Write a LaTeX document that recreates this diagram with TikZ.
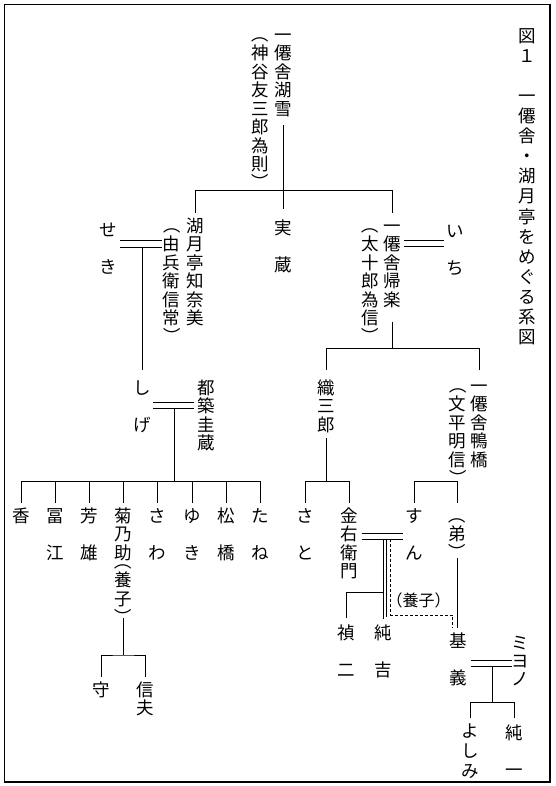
\documentclass[tikz,border=0pt]{standalone}
\usepackage{fontspec}
\usepackage{graphicx}
\newfontfamily\cjk{Noto Sans CJK JP}
\makeatletter
\newif\ifvt@first
\newcommand\vL{}\newcommand\vR{}\newcommand\vB{}
\def\vt@L{\vL}\def\vt@R{\vR}
\def\vt@strut{\vrule width0pt height.88em depth.12em}
\newcommand\vt[2][18.5pt]{\vbox{\baselineskip=#1\relax\lineskiplimit=-1000pt\lineskip=0pt\vt@firsttrue
  \@tfor\vt@c:=#2\do{\vt@one}}}
\def\vt@one{%
  \ifx\vt@c\vt@L
    \ifvt@first\else\vskip-.5\baselineskip\fi
    \hbox to1em{\vt@strut\rotatebox[origin=c]{-90}{\hbox{\vt@strut（}}\hss}%
  \else\ifx\vt@c\vt@R
    \hbox to1em{\vt@strut\rotatebox[origin=c]{-90}{\hbox{\vt@strut）}}\hss}\vskip-.5\baselineskip
  \else
    \hbox to1em{\hss\vt@strut\vt@c\hss}%
  \fi\fi\vt@firstfalse}
\makeatother
\begin{document}
\begin{tikzpicture}[x=1pt,y=-1pt,
  person/.style={inner sep=0pt,anchor=north,font=\cjk\fontsize{17.5pt}{17.5pt}\selectfont},
  ln/.style={line width=0.85pt},
  adopt/.style={line width=0.85pt,dash pattern=on 3pt off 2pt}]
\useasboundingbox (0,0) rectangle (555,786);
\draw[line width=1.1pt] (4.5,4.5) rectangle (550,782);
% title
\node[person] (title) at (527.7,26.5) {\vt[20.1pt]{図１\vB 一僊舎・湖月亭をめぐる系図}};
% generation 1
\node[person] (n1) at (283,25.5) {\vt{一僊舎湖雪}};
\node[person] (n1b) at (260.5,25.5) {\vt{\vL 神谷友三郎為則\vR}};
% generation 2
\node[person] (n2) at (195,216.5) {\vt{湖月亭知奈美}};
\node[person] (n2b) at (171.7,216.5) {\vt{\vL 由兵衛信常\vR}};
\node[person] (n3) at (283,218.5) {\vt{実\vB 蔵}};
\node[person] (n4) at (108,220.5) {\vt{せ\vB き}};
\node[person] (n5) at (392,216.5) {\vt{一僊舎帰楽}};
\node[person] (n5b) at (370,216.5) {\vt{\vL 太十郎為信\vR}};
\node[person] (n6) at (455,221.5) {\vt{い\vB ち}};
% generation 3
\node[person] (n7) at (142.7,378.5) {\vt{し\vB げ}};
\node[person] (n8) at (206.7,378.5) {\vt{都築圭蔵}};
\node[person] (n9) at (326.7,378.5) {\vt{織三郎}};
\node[person] (n10) at (479.3,376.5) {\vt{一僊舎鴨橋}};
\node[person] (n10b) at (457.7,376.5) {\vt{\vL 文平明信\vR}};
% children of shige
\node[person] (c1) at (21.7,506.5) {\vt{香}};
\node[person] (c2) at (55,506.5) {\vt{冨\vB 江}};
\node[person] (c3) at (89.3,506.5) {\vt{芳\vB 雄}};
\node[person] (c4) at (123.3,506.5) {\vt{菊乃助\vL 養子\vR}};
\node[person] (c5) at (157.7,506.5) {\vt{さ\vB わ}};
\node[person] (c6) at (192.3,506.5) {\vt{ゆ\vB き}};
\node[person] (c7) at (226.7,506.5) {\vt{松\vB 橋}};
\node[person] (c8) at (260,506.5) {\vt{た\vB ね}};
\node[person] (m1) at (101.7,680.5) {\vt{守}};
\node[person] (m2) at (145.7,680.5) {\vt{信夫}};
% right side
\node[person] (k1) at (305.7,506.5) {\vt{さ\vB と}};
\node[person] (k2) at (349,506.5) {\vt{金右衛門}};
\node[person] (k3) at (414.3,506.5) {\vt{す\vB ん}};
\node[person] (k4) at (457.5,506.5) {\vt{\vL 弟\vR}};
\node[person] (g1) at (346.7,623.5) {\vt{禎\vB 二}};
\node[person] (g2) at (383.3,623.5) {\vt{純\vB 吉}};
\node[person] (g3) at (458.3,631.5) {\vt{基\vB 義}};
\node[person] (g4) at (520,633.5) {\vt[18pt]{ミヨノ}};
\node[person] (y1) at (470.7,721.5) {\vt[20pt]{よしみ}};
\node[person] (y2) at (514.3,723.5) {\vt{純\vB 一}};
\node[inner sep=0pt,font=\cjk\fontsize{16pt}{16pt}\selectfont] (yoshi) at (418.7,600) {（養子）};
% connectors
\draw[ln] (n1 |- 0,125) -- (n3 |- 0,209);
\draw[ln] (n2 |- 0,212.7) |- (n5 |- 0,190.7) -- (n5 |- 0,212.7);
\draw[ln] (120,240.7) -- (161.7,240.7) (120,247.3) -- (161.7,247.3);
\draw[ln] (n7 |- 0,247.3) -- (n7 |- 0,370);
\draw[ln] (404,240.7) -- (444,240.7) (404,246.7) -- (444,246.7);
\draw[ln] (n5 |- 0,321.7) -- (n5 |- 0,348.3);
\draw[ln] (n9 |- 0,370) |- (n10 |- 0,348.3) -- (n10 |- 0,370);
\draw[ln] (153,402.3) -- (194,402.3) (153,408.3) -- (194,408.3);
\draw[ln] (174.3,408.3) -- (174.3,481);
\draw[ln] (c1 |- 0,481) -- (c8 |- 0,481);
\foreach \c in {c1,c2,c3,c4,c5,c6,c7,c8} \draw[ln] (\c |- 0,481) -- (\c |- 0,503);
\draw[ln] (c4 |- 0,618) -- (c4 |- 0,655);
\draw[ln] (m1 |- 0,676.7) |- (c4 |- 0,655) -| (m2 |- 0,676.7);
\draw[ln] (n9 |- 0,438) -- (n9 |- 0,481.7);
\draw[ln] (k1 |- 0,503) |- (n9 |- 0,481.7) -| (k2 |- 0,503);
\draw[ln] (k3 |- 0,503) |- (k4 |- 0,481.7) -- (k4 |- 0,503);
\draw[ln] (361.7,533.3) -- (402.7,533.3) (361.7,539.3) -- (402.7,539.3);
\draw[ln] (g2 |- 0,539.3) -- (g2 |- 0,619);
\draw[ln] (386,539.3) -- (386,617);
\draw[ln] (g1 |- 0,618) |- (g2 |- 0,592.7);
\draw[adopt] (390.7,539.3) |- (452.7,615) -- (452.7,628);
\draw[ln] (k4 |- 0,558) -- (k4 |- 0,628);
\draw[ln] (470.7,660.7) -- (511.7,660.7) (470.7,666) -- (511.7,666);
\draw[ln] (492.3,666) -- (492.3,702.7);
\draw[ln] (y1 |- 0,718) |- (492.3,702.7) -| (y2 |- 0,718);
\end{tikzpicture}
\end{document}
